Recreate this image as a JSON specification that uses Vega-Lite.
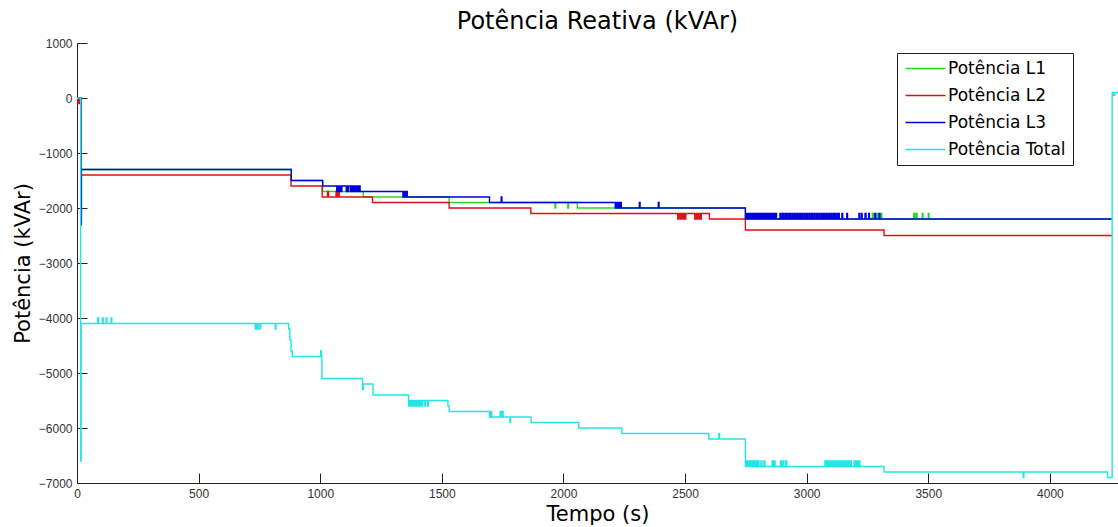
{
  "$schema": "https://vega.github.io/schema/vega-lite/v6.json",
  "width": 1041,
  "height": 440,
  "autosize": {"type": "none"},
  "padding": {"left": 77, "top": 43, "right": 0, "bottom": 44},
  "background": "white",
  "title": {"text": "Potência Reativa (kVAr)", "font": "DejaVu Sans", "fontSize": 24, "fontWeight": "normal", "color": "black", "anchor": "middle", "offset": 3},
  "config": {"view": {"stroke": null}},
  "data": {"values": [
    {"s":"L1","t":0,"v":0},{"s":"L1","t":15,"v":0},{"s":"L1","t":16,"v":-2100},{"s":"L1","t":18,"v":-1300},{"s":"L1","t":881,"v":-1500},{"s":"L1","t":1010,"v":-1700},{"s":"L1","t":1177,"v":-1800},{"s":"L1","t":1530,"v":-1900},{"s":"L1","t":1965,"v":-2000},{"s":"L1","t":1968,"v":-1900},{"s":"L1","t":2018,"v":-2000},{"s":"L1","t":2021,"v":-1900},{"s":"L1","t":2057,"v":-2000},{"s":"L1","t":2748,"v":-2200},{"s":"L1","t":3270,"v":-2100},{"s":"L1","t":3274,"v":-2200},{"s":"L1","t":3290,"v":-2100},{"s":"L1","t":3294,"v":-2200},{"s":"L1","t":3305,"v":-2100},{"s":"L1","t":3309,"v":-2200},{"s":"L1","t":3440,"v":-2100},{"s":"L1","t":3444,"v":-2200},{"s":"L1","t":3450,"v":-2100},{"s":"L1","t":3454,"v":-2200},{"s":"L1","t":3475,"v":-2100},{"s":"L1","t":3478,"v":-2200},{"s":"L1","t":3500,"v":-2100},{"s":"L1","t":3503,"v":-2200},{"s":"L1","t":4255,"v":-2200},
    {"s":"L2","t":0,"v":0},{"s":"L2","t":2,"v":-100},{"s":"L2","t":4,"v":0},{"s":"L2","t":6,"v":-100},{"s":"L2","t":8,"v":0},{"s":"L2","t":10,"v":-100},{"s":"L2","t":12,"v":0},{"s":"L2","t":14,"v":-100},{"s":"L2","t":16,"v":-2300},{"s":"L2","t":18,"v":-1400},{"s":"L2","t":880,"v":-1600},{"s":"L2","t":1008,"v":-1800},{"s":"L2","t":1030,"v":-1700},{"s":"L2","t":1034,"v":-1800},{"s":"L2","t":1065,"v":-1700},{"s":"L2","t":1069,"v":-1800},{"s":"L2","t":1075,"v":-1700},{"s":"L2","t":1078,"v":-1800},{"s":"L2","t":1215,"v":-1900},{"s":"L2","t":1530,"v":-2000},{"s":"L2","t":1866,"v":-2100},{"s":"L2","t":2470,"v":-2200},{"s":"L2","t":2474,"v":-2100},{"s":"L2","t":2480,"v":-2200},{"s":"L2","t":2484,"v":-2100},{"s":"L2","t":2490,"v":-2200},{"s":"L2","t":2495,"v":-2100},{"s":"L2","t":2500,"v":-2200},{"s":"L2","t":2503,"v":-2100},{"s":"L2","t":2540,"v":-2200},{"s":"L2","t":2545,"v":-2100},{"s":"L2","t":2550,"v":-2200},{"s":"L2","t":2556,"v":-2100},{"s":"L2","t":2562,"v":-2200},{"s":"L2","t":2567,"v":-2100},{"s":"L2","t":2600,"v":-2200},{"s":"L2","t":2748,"v":-2400},{"s":"L2","t":3318,"v":-2500},{"s":"L2","t":4255,"v":-2500},
    {"s":"L3","t":0,"v":0},{"s":"L3","t":15,"v":0},{"s":"L3","t":16,"v":-2300},{"s":"L3","t":18,"v":-1300},{"s":"L3","t":881,"v":-1500},{"s":"L3","t":1010,"v":-1600},
    {"s":"L3","t":1068,"v":-1700},{"s":"L3","t":1071,"v":-1600},{"s":"L3","t":1073,"v":-1700},{"s":"L3","t":1076,"v":-1600},{"s":"L3","t":1079,"v":-1700},{"s":"L3","t":1082,"v":-1600},{"s":"L3","t":1085,"v":-1700},{"s":"L3","t":1089,"v":-1600},{"s":"L3","t":1107,"v":-1700},{"s":"L3","t":1110,"v":-1600},{"s":"L3","t":1113,"v":-1700},{"s":"L3","t":1116,"v":-1600},{"s":"L3","t":1124,"v":-1700},{"s":"L3","t":1128,"v":-1600},{"s":"L3","t":1131,"v":-1700},{"s":"L3","t":1135,"v":-1600},{"s":"L3","t":1140,"v":-1700},{"s":"L3","t":1144,"v":-1600},{"s":"L3","t":1148,"v":-1700},{"s":"L3","t":1152,"v":-1600},{"s":"L3","t":1156,"v":-1700},{"s":"L3","t":1160,"v":-1600},{"s":"L3","t":1164,"v":-1700},{"s":"L3","t":1171,"v":-1700},
    {"s":"L3","t":1340,"v":-1800},{"s":"L3","t":1343,"v":-1700},{"s":"L3","t":1346,"v":-1800},{"s":"L3","t":1349,"v":-1700},{"s":"L3","t":1352,"v":-1800},{"s":"L3","t":1355,"v":-1700},{"s":"L3","t":1358,"v":-1800},{"s":"L3","t":1696,"v":-1900},{"s":"L3","t":1744,"v":-1800},{"s":"L3","t":1747,"v":-1900},
    {"s":"L3","t":2213,"v":-2000},{"s":"L3","t":2218,"v":-1900},{"s":"L3","t":2222,"v":-2000},{"s":"L3","t":2226,"v":-1900},{"s":"L3","t":2230,"v":-2000},{"s":"L3","t":2234,"v":-1900},{"s":"L3","t":2238,"v":-2000},{"s":"L3","t":2312,"v":-1900},{"s":"L3","t":2315,"v":-2000},{"s":"L3","t":2390,"v":-1900},{"s":"L3","t":2393,"v":-2000},{"s":"L3","t":2748,"v":-2200},
    {"s":"L3","t":2752,"v":-2100},{"s":"L3","t":2756,"v":-2200},{"s":"L3","t":2760,"v":-2100},{"s":"L3","t":2764,"v":-2200},{"s":"L3","t":2768,"v":-2100},{"s":"L3","t":2772,"v":-2200},{"s":"L3","t":2776,"v":-2100},{"s":"L3","t":2780,"v":-2200},{"s":"L3","t":2784,"v":-2100},{"s":"L3","t":2788,"v":-2200},{"s":"L3","t":2792,"v":-2100},{"s":"L3","t":2796,"v":-2200},{"s":"L3","t":2800,"v":-2100},{"s":"L3","t":2804,"v":-2200},{"s":"L3","t":2808,"v":-2100},{"s":"L3","t":2812,"v":-2200},{"s":"L3","t":2816,"v":-2100},{"s":"L3","t":2820,"v":-2200},{"s":"L3","t":2824,"v":-2100},{"s":"L3","t":2828,"v":-2200},{"s":"L3","t":2832,"v":-2100},{"s":"L3","t":2836,"v":-2200},{"s":"L3","t":2840,"v":-2100},{"s":"L3","t":2844,"v":-2200},{"s":"L3","t":2848,"v":-2100},{"s":"L3","t":2852,"v":-2200},{"s":"L3","t":2856,"v":-2100},{"s":"L3","t":2860,"v":-2200},{"s":"L3","t":2864,"v":-2100},{"s":"L3","t":2868,"v":-2200},{"s":"L3","t":2872,"v":-2100},{"s":"L3","t":2876,"v":-2200},
    {"s":"L3","t":2890,"v":-2100},{"s":"L3","t":2894,"v":-2200},{"s":"L3","t":2900,"v":-2100},{"s":"L3","t":2904,"v":-2200},{"s":"L3","t":2910,"v":-2100},{"s":"L3","t":2914,"v":-2200},{"s":"L3","t":2920,"v":-2100},{"s":"L3","t":2924,"v":-2200},{"s":"L3","t":2930,"v":-2100},{"s":"L3","t":2934,"v":-2200},{"s":"L3","t":2940,"v":-2100},{"s":"L3","t":2944,"v":-2200},{"s":"L3","t":2950,"v":-2100},{"s":"L3","t":2954,"v":-2200},{"s":"L3","t":2960,"v":-2100},{"s":"L3","t":2964,"v":-2200},{"s":"L3","t":2970,"v":-2100},{"s":"L3","t":2974,"v":-2200},{"s":"L3","t":2980,"v":-2100},{"s":"L3","t":2984,"v":-2200},{"s":"L3","t":2990,"v":-2100},{"s":"L3","t":2994,"v":-2200},{"s":"L3","t":3000,"v":-2100},{"s":"L3","t":3004,"v":-2200},{"s":"L3","t":3010,"v":-2100},{"s":"L3","t":3014,"v":-2200},{"s":"L3","t":3020,"v":-2100},{"s":"L3","t":3024,"v":-2200},{"s":"L3","t":3030,"v":-2100},{"s":"L3","t":3034,"v":-2200},{"s":"L3","t":3040,"v":-2100},{"s":"L3","t":3044,"v":-2200},{"s":"L3","t":3050,"v":-2100},{"s":"L3","t":3054,"v":-2200},{"s":"L3","t":3060,"v":-2100},{"s":"L3","t":3064,"v":-2200},{"s":"L3","t":3070,"v":-2100},{"s":"L3","t":3074,"v":-2200},{"s":"L3","t":3080,"v":-2100},{"s":"L3","t":3084,"v":-2200},{"s":"L3","t":3090,"v":-2100},{"s":"L3","t":3094,"v":-2200},{"s":"L3","t":3100,"v":-2100},{"s":"L3","t":3104,"v":-2200},{"s":"L3","t":3110,"v":-2100},{"s":"L3","t":3114,"v":-2200},{"s":"L3","t":3120,"v":-2100},{"s":"L3","t":3124,"v":-2200},{"s":"L3","t":3130,"v":-2100},{"s":"L3","t":3134,"v":-2200},
    {"s":"L3","t":3145,"v":-2100},{"s":"L3","t":3148,"v":-2200},{"s":"L3","t":3165,"v":-2100},{"s":"L3","t":3168,"v":-2200},{"s":"L3","t":3215,"v":-2100},{"s":"L3","t":3218,"v":-2200},{"s":"L3","t":3225,"v":-2100},{"s":"L3","t":3228,"v":-2200},{"s":"L3","t":3240,"v":-2100},{"s":"L3","t":3244,"v":-2200},{"s":"L3","t":3255,"v":-2100},{"s":"L3","t":3258,"v":-2200},{"s":"L3","t":3280,"v":-2100},{"s":"L3","t":3284,"v":-2200},{"s":"L3","t":3298,"v":-2100},{"s":"L3","t":3301,"v":-2200},{"s":"L3","t":4255,"v":-2200},
    {"s":"Total","t":0,"v":0},{"s":"Total","t":14,"v":0},{"s":"Total","t":15,"v":-6600},{"s":"Total","t":17,"v":-4100},{"s":"Total","t":85,"v":-4000},{"s":"Total","t":88,"v":-4100},{"s":"Total","t":105,"v":-4000},{"s":"Total","t":108,"v":-4100},{"s":"Total","t":120,"v":-4000},{"s":"Total","t":123,"v":-4100},{"s":"Total","t":140,"v":-4000},{"s":"Total","t":143,"v":-4100},{"s":"Total","t":733,"v":-4200},{"s":"Total","t":736,"v":-4100},{"s":"Total","t":742,"v":-4200},{"s":"Total","t":745,"v":-4100},{"s":"Total","t":752,"v":-4200},{"s":"Total","t":755,"v":-4100},{"s":"Total","t":815,"v":-4200},{"s":"Total","t":818,"v":-4100},{"s":"Total","t":870,"v":-4200},{"s":"Total","t":875,"v":-4400},{"s":"Total","t":880,"v":-4600},{"s":"Total","t":885,"v":-4700},{"s":"Total","t":1002,"v":-4600},{"s":"Total","t":1005,"v":-4700},{"s":"Total","t":1007,"v":-5100},{"s":"Total","t":1174,"v":-5300},{"s":"Total","t":1177,"v":-5200},{"s":"Total","t":1217,"v":-5400},
    {"s":"Total","t":1363,"v":-5600},{"s":"Total","t":1368,"v":-5500},{"s":"Total","t":1372,"v":-5600},{"s":"Total","t":1377,"v":-5500},{"s":"Total","t":1381,"v":-5600},{"s":"Total","t":1386,"v":-5500},{"s":"Total","t":1390,"v":-5600},{"s":"Total","t":1395,"v":-5500},{"s":"Total","t":1399,"v":-5600},{"s":"Total","t":1404,"v":-5500},{"s":"Total","t":1408,"v":-5600},{"s":"Total","t":1413,"v":-5500},{"s":"Total","t":1418,"v":-5600},{"s":"Total","t":1422,"v":-5500},{"s":"Total","t":1430,"v":-5600},{"s":"Total","t":1433,"v":-5500},{"s":"Total","t":1442,"v":-5600},{"s":"Total","t":1445,"v":-5500},{"s":"Total","t":1525,"v":-5600},{"s":"Total","t":1530,"v":-5700},{"s":"Total","t":1696,"v":-5800},{"s":"Total","t":1700,"v":-5700},{"s":"Total","t":1705,"v":-5800},{"s":"Total","t":1740,"v":-5700},{"s":"Total","t":1744,"v":-5800},{"s":"Total","t":1748,"v":-5700},{"s":"Total","t":1752,"v":-5800},{"s":"Total","t":1780,"v":-5900},{"s":"Total","t":1783,"v":-5800},{"s":"Total","t":1867,"v":-5900},{"s":"Total","t":2063,"v":-6000},{"s":"Total","t":2240,"v":-6100},{"s":"Total","t":2598,"v":-6200},{"s":"Total","t":2639,"v":-6100},{"s":"Total","t":2642,"v":-6200},{"s":"Total","t":2748,"v":-6700},
    {"s":"Total","t":2752,"v":-6600},{"s":"Total","t":2756,"v":-6700},{"s":"Total","t":2760,"v":-6600},{"s":"Total","t":2764,"v":-6700},{"s":"Total","t":2768,"v":-6600},{"s":"Total","t":2772,"v":-6700},{"s":"Total","t":2776,"v":-6600},{"s":"Total","t":2780,"v":-6700},{"s":"Total","t":2784,"v":-6600},{"s":"Total","t":2788,"v":-6700},{"s":"Total","t":2792,"v":-6600},{"s":"Total","t":2796,"v":-6700},{"s":"Total","t":2800,"v":-6600},{"s":"Total","t":2804,"v":-6700},{"s":"Total","t":2812,"v":-6600},{"s":"Total","t":2816,"v":-6700},{"s":"Total","t":2824,"v":-6600},{"s":"Total","t":2828,"v":-6700},{"s":"Total","t":2858,"v":-6600},{"s":"Total","t":2862,"v":-6700},{"s":"Total","t":2866,"v":-6600},{"s":"Total","t":2870,"v":-6700},{"s":"Total","t":2892,"v":-6600},{"s":"Total","t":2896,"v":-6700},{"s":"Total","t":2902,"v":-6600},{"s":"Total","t":2906,"v":-6700},{"s":"Total","t":2914,"v":-6600},{"s":"Total","t":2918,"v":-6700},
    {"s":"Total","t":3075,"v":-6600},{"s":"Total","t":3079,"v":-6700},{"s":"Total","t":3083,"v":-6600},{"s":"Total","t":3087,"v":-6700},{"s":"Total","t":3091,"v":-6600},{"s":"Total","t":3095,"v":-6700},{"s":"Total","t":3100,"v":-6600},{"s":"Total","t":3104,"v":-6700},{"s":"Total","t":3110,"v":-6600},{"s":"Total","t":3114,"v":-6700},{"s":"Total","t":3120,"v":-6600},{"s":"Total","t":3124,"v":-6700},{"s":"Total","t":3130,"v":-6600},{"s":"Total","t":3134,"v":-6700},{"s":"Total","t":3140,"v":-6600},{"s":"Total","t":3144,"v":-6700},{"s":"Total","t":3150,"v":-6600},{"s":"Total","t":3154,"v":-6700},{"s":"Total","t":3160,"v":-6600},{"s":"Total","t":3164,"v":-6700},{"s":"Total","t":3170,"v":-6600},{"s":"Total","t":3174,"v":-6700},{"s":"Total","t":3180,"v":-6600},{"s":"Total","t":3184,"v":-6700},{"s":"Total","t":3195,"v":-6600},{"s":"Total","t":3199,"v":-6700},{"s":"Total","t":3205,"v":-6600},{"s":"Total","t":3209,"v":-6700},{"s":"Total","t":3215,"v":-6600},{"s":"Total","t":3219,"v":-6700},
    {"s":"Total","t":3318,"v":-6800},{"s":"Total","t":3890,"v":-6900},{"s":"Total","t":3893,"v":-6800},{"s":"Total","t":4237,"v":-6900},{"s":"Total","t":4256,"v":100},{"s":"Total","t":4262,"v":50},{"s":"Total","t":4266,"v":100},{"s":"Total","t":4280,"v":100}
  ]},
  "encoding": {
    "x": {"field": "t", "type": "quantitative",
      "scale": {"domain": [0, 4280], "nice": false, "zero": false},
      "axis": {"values": [0,500,1000,1500,2000,2500,3000,3500,4000], "format": "d", "grid": false, "tickSize": -10, "tickColor": "#222", "domainColor": "#222", "labelFont": "Liberation Sans", "labelFontSize": 12, "labelColor": "#333", "labelPadding": 15, "labelOverlap": false, "labelFlush": false, "title": "Tempo (s)", "titleFont": "DejaVu Sans", "titleFontSize": 21, "titleFontWeight": "normal", "titleColor": "black", "titlePadding": 4}},
    "y": {"field": "v", "type": "quantitative",
      "scale": {"domain": [-7000, 1000], "nice": false, "zero": false},
      "axis": {"values": [-7000,-6000,-5000,-4000,-3000,-2000,-1000,0,1000], "format": "d", "grid": false, "tickSize": -10, "tickColor": "#222", "domainColor": "#222", "labelFont": "Liberation Sans", "labelFontSize": 12, "labelColor": "#333", "labelPadding": 15, "labelOverlap": false, "labelFlush": false, "title": "Potência (kVAr)", "titleFont": "DejaVu Sans", "titleFontSize": 21, "titleFontWeight": "normal", "titleColor": "black", "titlePadding": 5}},
    "color": {"field": "s", "type": "nominal",
      "scale": {"domain": ["L1","L2","L3","Total"], "range": ["#22dd22","#dd1111","#0000dd","#22e6e6"]},
      "legend": {"orient": "none", "legendX": 820, "legendY": 10, "title": null, "labelExpr": "'Potência ' + datum.label", "symbolType": "M-4,0H4", "symbolSize": 100, "symbolOffset": 13, "symbolStrokeWidth": 1.5, "labelFont": "DejaVu Sans", "labelFontSize": 17, "labelColor": "black", "labelOffset": 14, "padding": 7, "rowPadding": 9, "strokeColor": "#222", "fillColor": "white", "cornerRadius": 0}}
  },
  "layer": [
    {"transform": [{"filter": "datum.s === 'L1'"}], "mark": {"type": "line", "interpolate": "step-after", "strokeWidth": 1.4, "clip": true}},
    {"transform": [{"filter": "datum.s === 'L2'"}], "mark": {"type": "line", "interpolate": "step-after", "strokeWidth": 1.4, "clip": true}},
    {"transform": [{"filter": "datum.s === 'L3'"}], "mark": {"type": "line", "interpolate": "step-after", "strokeWidth": 1.4, "clip": true}},
    {"transform": [{"filter": "datum.s === 'Total'"}], "mark": {"type": "line", "interpolate": "step-after", "strokeWidth": 1.4, "clip": true}}
  ]
}
